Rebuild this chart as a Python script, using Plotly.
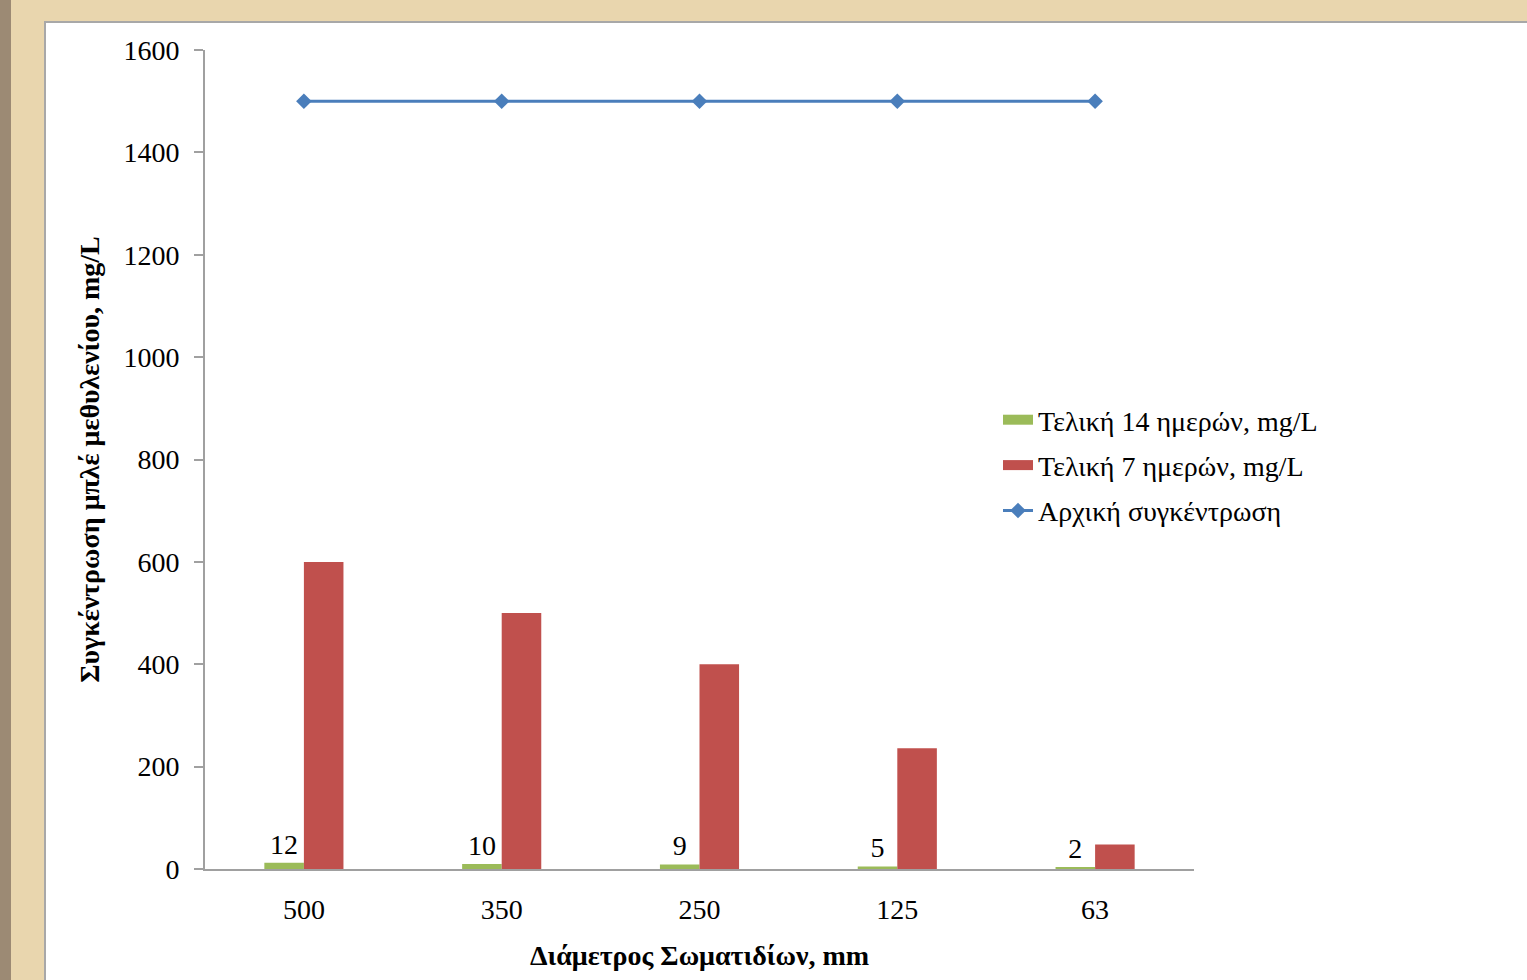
import plotly.graph_objects as go

# Particle diameter categories (x axis)
diameters = ["500", "350", "250", "125", "63"]
# Final concentration after 14 days, mg/L
final_14d = [12, 10, 9, 5, 2]
# Final concentration after 7 days, mg/L
final_7d = [600, 500, 400, 236, 48]
# Initial concentration, mg/L
initial = [1500, 1500, 1500, 1500, 1500]

SERIF = "Liberation Serif, Times New Roman, serif"
GREEN, RED, BLUE = "#9BBB59", "#C0504D", "#4A7EBB"
names = ["Τελική 14 ημερών, mg/L", "Τελική 7 ημερών, mg/L", "Αρχική συγκέντρωση"]

fig = go.Figure()

fig.add_trace(go.Bar(
    x=diameters, y=final_14d, name=names[0], showlegend=False,
    marker=dict(color=GREEN, line=dict(width=0)),
    text=[str(v) for v in final_14d], textposition="outside",
    textfont=dict(family=SERIF, size=28, color="black"),
    cliponaxis=False,
))
fig.add_trace(go.Bar(
    x=diameters, y=final_7d, name=names[1], showlegend=False,
    marker=dict(color=RED, line=dict(width=0)),
))
fig.add_trace(go.Scatter(
    x=diameters, y=initial, name=names[2], showlegend=False,
    mode="lines+markers",
    line=dict(color=BLUE, width=3),
    marker=dict(symbol="diamond", size=12, color=BLUE),
))

# Legend entries with wide colour swatches for the bar series
fig.add_trace(go.Scatter(x=[None], y=[None], name=names[0], mode="lines",
                         line=dict(color=GREEN, width=12), legendgroup="a"))
fig.add_trace(go.Scatter(x=[None], y=[None], name=names[1], mode="lines",
                         line=dict(color=RED, width=12), legendgroup="b"))
fig.add_trace(go.Scatter(x=[None], y=[None], name=names[2], mode="lines+markers",
                         line=dict(color=BLUE, width=3),
                         marker=dict(symbol="diamond", size=12, color=BLUE),
                         legendgroup="c"))

# Plot area spans x 205..1194 px and y 50..869 px of a 1527x980 page
L, R, T, B = 205, 1527 - 1194, 50, 980 - 869
pw, ph = 1527 - L - R, 980 - T - B

def px_x(p):
    return (p - L) / pw

def px_y(p):
    return (980 - B - p) / ph

shapes = [
    # white slide panel with grey border
    dict(type="rect", xref="paper", yref="paper", layer="below",
         x0=px_x(45), x1=px_x(1540), y0=px_y(995), y1=px_y(22),
         fillcolor="white", line=dict(color="#A8A8A8", width=2)),
    # darker textured strip at the left edge
    dict(type="rect", xref="paper", yref="paper", layer="below",
         x0=px_x(-5), x1=px_x(11), y0=px_y(995), y1=px_y(-5),
         fillcolor="#9C8A74", line=dict(width=0)),
]

fig.update_layout(
    width=1527, height=980,
    margin=dict(l=L, r=R, t=T, b=B),
    paper_bgcolor="#E9D6AE",
    plot_bgcolor="white",
    barmode="group",
    bargap=0.6, bargroupgap=0,
    font=dict(family=SERIF, size=28, color="black"),
    shapes=shapes,
    legend=dict(
        x=px_x(998), y=px_y(395), xanchor="left", yanchor="top",
        bgcolor="rgba(0,0,0,0)", font=dict(family=SERIF, size=28),
        traceorder="grouped", tracegroupgap=6,
    ),
    xaxis=dict(
        showline=True, linecolor="#A0A0A0", linewidth=2,
        ticks="", ticklabelstandoff=14,
        tickfont=dict(family=SERIF, size=28),
        title=dict(text="<b>Διάμετρος Σωματιδίων, mm</b>",
                   font=dict(family=SERIF, size=28), standoff=22),
        showgrid=False,
    ),
    yaxis=dict(
        range=[0, 1600], dtick=200,
        showline=True, linecolor="#A0A0A0", linewidth=2,
        ticks="outside", ticklen=9, tickcolor="#A0A0A0", tickwidth=2,
        ticklabelstandoff=9,
        tickfont=dict(family=SERIF, size=28),
        title=dict(text="<b>Συγκέντρωση μπλέ μεθυλενίου, mg/L</b>",
                   font=dict(family=SERIF, size=28), standoff=16),
        showgrid=False, zeroline=False,
    ),
)

fig.write_html("out.html")
